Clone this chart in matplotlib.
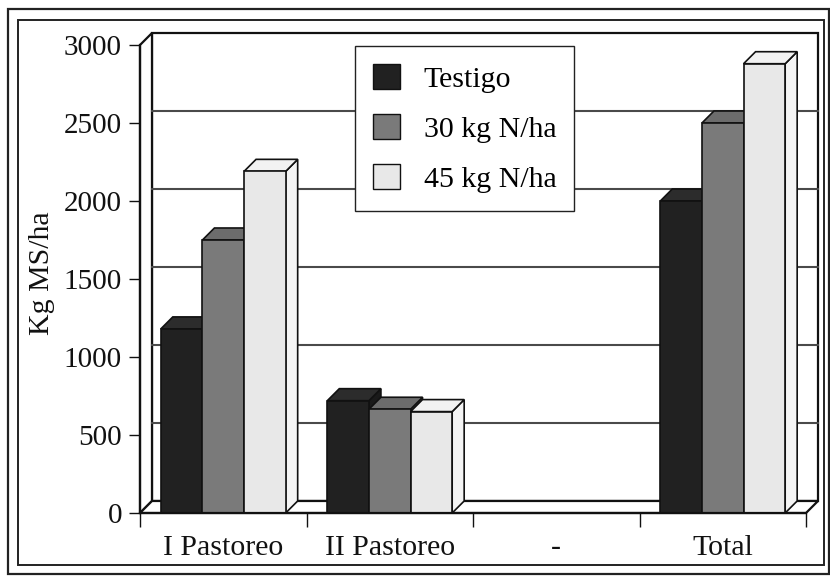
import matplotlib
matplotlib.use("Agg")
import matplotlib.pyplot as plt
from matplotlib.patches import Polygon, Rectangle, Patch
import numpy as np

# ---- data ----
categories = ["I Pastoreo", "II Pastoreo", "-", "Total"]
series_names = ["Testigo", "30 kg N/ha", "45 kg N/ha"]
testigo = [1180, 720, None, 2000]
n30 = [1750, 665, None, 2500]
n45 = [2190, 650, None, 2880]
yticks = [0, 500, 1000, 1500, 2000, 2500, 3000]

series = [testigo, n30, n45]

# ---- style ----
FONT = "Liberation Serif"
plt.rcParams["font.family"] = [FONT, "DejaVu Serif"]
front_cols = ["#212121", "#7a7a7a", "#e8e8e8"]
top_cols = ["#2c2c2c", "#6c6c6c", "#f2f2f2"]
side_cols = ["#1a1a1a", "#707070", "#f4f4f4"]
DX = 0.072   # depth offset in x data units
DY = 77      # depth offset in y data units
BAR_W = 0.25
EDGE = "#111111"

W, H = 830, 576
fig = plt.figure(figsize=(W / 100, H / 100), dpi=100)
fig.patch.set_facecolor("white")

# double frame around the figure
fig.add_artist(Rectangle((8 / W, 1 - 574 / H), (829 - 8) / W, (574 - 9) / H,
                         transform=fig.transFigure, fill=False, lw=1.6, ec="#222222"))
fig.add_artist(Rectangle((18 / W, 1 - 565 / H), (824 - 18) / W, (565 - 20) / H,
                         transform=fig.transFigure, fill=False, lw=1.4, ec="#222222"))

ax = fig.add_axes([140 / W, (H - 513) / H, 666 / W, 468 / H])
n_cat = len(categories)
ymax = yticks[-1]
ax.set_xlim(0, n_cat)
ax.set_ylim(0, ymax)
ax.patch.set_alpha(0)

# walls
back = Rectangle((DX, DY), n_cat, ymax, fill=True, fc="white", ec=EDGE, lw=1.6,
                 clip_on=False, zorder=0.5)
ax.add_patch(back)
left_wall = Polygon([(0, 0), (DX, DY), (DX, ymax + DY), (0, ymax)], closed=True,
                    fc="white", ec=EDGE, lw=1.6, clip_on=False, zorder=0.6)
ax.add_patch(left_wall)
floor = Polygon([(0, 0), (DX, DY), (n_cat + DX, DY), (n_cat, 0)], closed=True,
                fc="white", ec=EDGE, lw=1.6, clip_on=False, zorder=0.6)
ax.add_patch(floor)
for t in yticks[1:-1]:
    ax.plot([DX, n_cat + DX], [t + DY, t + DY], color="#4a4a4a", lw=1.5,
            clip_on=False, zorder=0.7)

# bars
for ci in range(n_cat):
    x0 = ci + 0.5 - 1.5 * BAR_W
    for si, s in enumerate(series):
        v = s[ci]
        if v is None:
            continue
        x = x0 + si * BAR_W
        z = 2 + ci * 0.1 + si * 0.01
        side = Polygon([(x + BAR_W, 0), (x + BAR_W + DX, DY), (x + BAR_W + DX, v + DY),
                        (x + BAR_W, v)], closed=True, fc=side_cols[si], ec=EDGE,
                       lw=1.2, clip_on=False, zorder=z)
        top = Polygon([(x, v), (x + DX, v + DY), (x + BAR_W + DX, v + DY), (x + BAR_W, v)],
                      closed=True, fc=top_cols[si], ec=EDGE, lw=1.2, clip_on=False,
                      zorder=z + 0.001)
        front = Rectangle((x, 0), BAR_W, v, fc=front_cols[si], ec=EDGE, lw=1.2,
                          clip_on=False, zorder=z + 0.002)
        ax.add_patch(side)
        ax.add_patch(top)
        ax.add_patch(front)

# axes / ticks
for sp in ["top", "right"]:
    ax.spines[sp].set_visible(False)
for sp in ["left", "bottom"]:
    ax.spines[sp].set_color(EDGE)
    ax.spines[sp].set_linewidth(1.6)
    ax.spines[sp].set_zorder(5)

ax.set_yticks(yticks)
ax.set_yticklabels([str(t) for t in yticks])
ax.tick_params(axis="y", direction="out", length=8, width=1, pad=5, labelsize=21,
               colors="#111111")
ax.set_xticks(np.arange(n_cat + 1))
ax.set_xticklabels([])
ax.tick_params(axis="x", which="major", direction="out", length=10, width=1,
               colors="#111111")
ax.set_xticks(np.arange(n_cat) + 0.5, minor=True)
ax.set_xticklabels(categories, minor=True)
ax.tick_params(axis="x", which="minor", length=0, pad=16, labelsize=21.5, colors="#111111")

ax.set_ylabel("Kg MS/ha", fontsize=21.5, color="#111111")
ax.yaxis.set_label_coords(-0.128, 0.512)

handles = [Patch(fc=front_cols[i], ec=EDGE, lw=1.0) for i in range(3)]
leg = ax.legend(handles, series_names, loc="upper left",
                bbox_to_anchor=(355 / W, 1 - 46 / H), bbox_transform=fig.transFigure,
                frameon=True, fancybox=False, framealpha=1, edgecolor="#222222",
                fontsize=21.5, handlelength=0.9, handleheight=0.9, handletextpad=0.8,
                labelspacing=0.72, borderpad=0.6, borderaxespad=0)
leg.get_frame().set_linewidth(1.0)
leg.set_zorder(10)

fig.savefig("out.png", dpi=100, facecolor="white")
